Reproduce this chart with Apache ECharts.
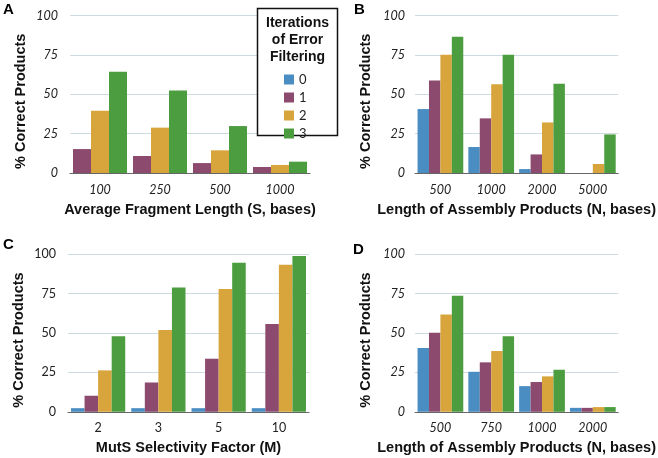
<!DOCTYPE html>
<html>
<head>
<meta charset="utf-8">
<script src="https://cdn.jsdelivr.net/npm/echarts@6/dist/echarts.min.js"></script>
<style>html,body{margin:0;padding:0;background:#fff;}#c{width:658px;height:458px;}</style>
</head>
<body>
<div id="c"></div>
<script>
// Tick labels (y) shared
const yTicks = [0, 25, 50, 75, 100];

// Panel A
const catA = ['100', '250', '500', '1000'];
const a1 = [15.2, 10.8, 6.3, 3.8];
const a2 = [39.5, 28.8, 14.4, 5.1];
const a3 = [64.3, 52.4, 29.8, 7.2];

// Panel B
const catB = ['500', '1000', '2000', '5000'];
const b0 = [40.6, 16.5, 2.5, 0];
const b1 = [58.8, 34.7, 11.8, 0];
const b2 = [75.1, 56.4, 32.1, 5.7];
const b3 = [86.5, 75.1, 56.7, 24.5];

// Panel C
const catC = ['2', '3', '5', '10'];
const c0 = [2.3, 2.3, 2.3, 2.3];
const c1 = [10.2, 18.6, 33.7, 55.7];
const c2 = [26.3, 51.9, 78.0, 93.4];
const c3 = [47.9, 79.0, 94.7, 98.9];

// Panel D
const catD = ['500', '750', '1000', '2000'];
const d0 = [40.5, 25.4, 16.3, 2.5];
const d1 = [50.2, 31.4, 18.9, 2.5];
const d2 = [61.7, 38.6, 22.5, 3.0];
const d3 = [73.7, 47.9, 26.7, 3.0];

const seriesNames = ['0', '1', '2', '3'];
const colors = {'0': '#4a8dc2', '1': '#8c4a6f', '2': '#d7a53b', '3': '#4c9d3f'};

const boldFont = 'Liberation Sans';
const tickFont = 'Lato';

const grids = [
  {left: 70, width: 240, top: 15.5, height: 157.5},
  {left: 415, width: 242, top: 15.5, height: 157.5},
  {left: 68, width: 241, top: 254.3, height: 157.5},
  {left: 415, width: 242, top: 254.3, height: 157.5}
];
const cats = [catA, catB, catC, catD];
const xNames = ['Average Fragment Length (S, bases)', 'Length of Assembly Products (N, bases)',
  'MutS Selectivity Factor (M)', 'Length of Assembly Products (N, bases)'];
const italic = [true, true, false, true];

const xAxes = cats.map((c, i) => ({
  type: 'category', gridIndex: i, data: c,
  axisLine: {lineStyle: {color: '#666', width: 1}},
  axisTick: {show: false},
  axisLabel: {fontFamily: tickFont, fontStyle: italic[i] ? 'italic' : 'normal', fontSize: 12.5, color: '#222', margin: 10},
  name: xNames[i], nameLocation: 'middle', nameGap: 29,
  nameTextStyle: {fontFamily: boldFont, fontWeight: 'bold', fontSize: 14.5, color: '#111'}
}));
const yAxes = cats.map((c, i) => ({
  type: 'value', gridIndex: i, min: 0, max: 100, interval: 25,
  axisLine: {show: false}, axisTick: {show: false},
  splitLine: {lineStyle: {color: '#cddbe3', width: 1}},
  axisLabel: {fontFamily: tickFont, fontStyle: italic[i] ? 'italic' : 'normal', fontSize: 12.5, color: '#222', margin: i % 2 === 0 ? 12 : 10},
  name: '% Correct Products', nameLocation: 'middle', nameGap: 42,
  nameTextStyle: {fontFamily: boldFont, fontWeight: 'bold', fontSize: 14.5, color: '#111', padding: [0, 14, 0, 0]}
}));

function bars(idx, name, data) {
  return {type: 'bar', name: name, xAxisIndex: idx, yAxisIndex: idx, data: data,
    itemStyle: {color: colors[name]}, barGap: '0%', barCategoryGap: '10%'};
}

const series = [
  bars(0, '1', a1), bars(0, '2', a2), bars(0, '3', a3),
  bars(1, '0', b0), bars(1, '1', b1), bars(1, '2', b2), bars(1, '3', b3),
  bars(2, '0', c0), bars(2, '1', c1), bars(2, '2', c2), bars(2, '3', c3),
  bars(3, '0', d0), bars(3, '1', d1), bars(3, '2', d2), bars(3, '3', d3)
];

const letterStyle = {fontFamily: boldFont, fontWeight: 'bold', fontSize: 15, fill: '#000'};

const option = {
  animation: false,
  backgroundColor: '#fff',
  grid: grids,
  xAxis: xAxes,
  yAxis: yAxes,
  series: series,
  legend: {
    data: seriesNames, orient: 'vertical', left: 284, top: 73, padding: 0,
    itemWidth: 10, itemHeight: 10, itemGap: 5, icon: 'rect',
    selectedMode: false, z: 20,
    textStyle: {fontFamily: tickFont, fontSize: 13, color: '#222'}
  },
  graphic: [
    {type: 'rect', shape: {x: 257.5, y: 8.5, width: 80, height: 127}, style: {fill: '#fff', stroke: '#111', lineWidth: 1.5}, z: 10},
    {type: 'text', x: 297.5, y: 15, style: {text: 'Iterations\nof Error\nFiltering', align: 'center', verticalAlign: 'top', fontFamily: boldFont, fontWeight: 'bold', fontSize: 14, lineHeight: 17, fill: '#111'}, z: 11},
    {type: 'text', x: 3, y: 2, style: Object.assign({text: 'A'}, letterStyle), z: 11},
    {type: 'text', x: 354, y: 2, style: Object.assign({text: 'B'}, letterStyle), z: 11},
    {type: 'text', x: 3, y: 237, style: Object.assign({text: 'C'}, letterStyle), z: 11},
    {type: 'text', x: 353, y: 242, style: Object.assign({text: 'D'}, letterStyle), z: 11}
  ]
};

const chart = echarts.init(document.getElementById('c'), null, {renderer: 'canvas'});
chart.setOption(option);
</script>
</body>
</html>
